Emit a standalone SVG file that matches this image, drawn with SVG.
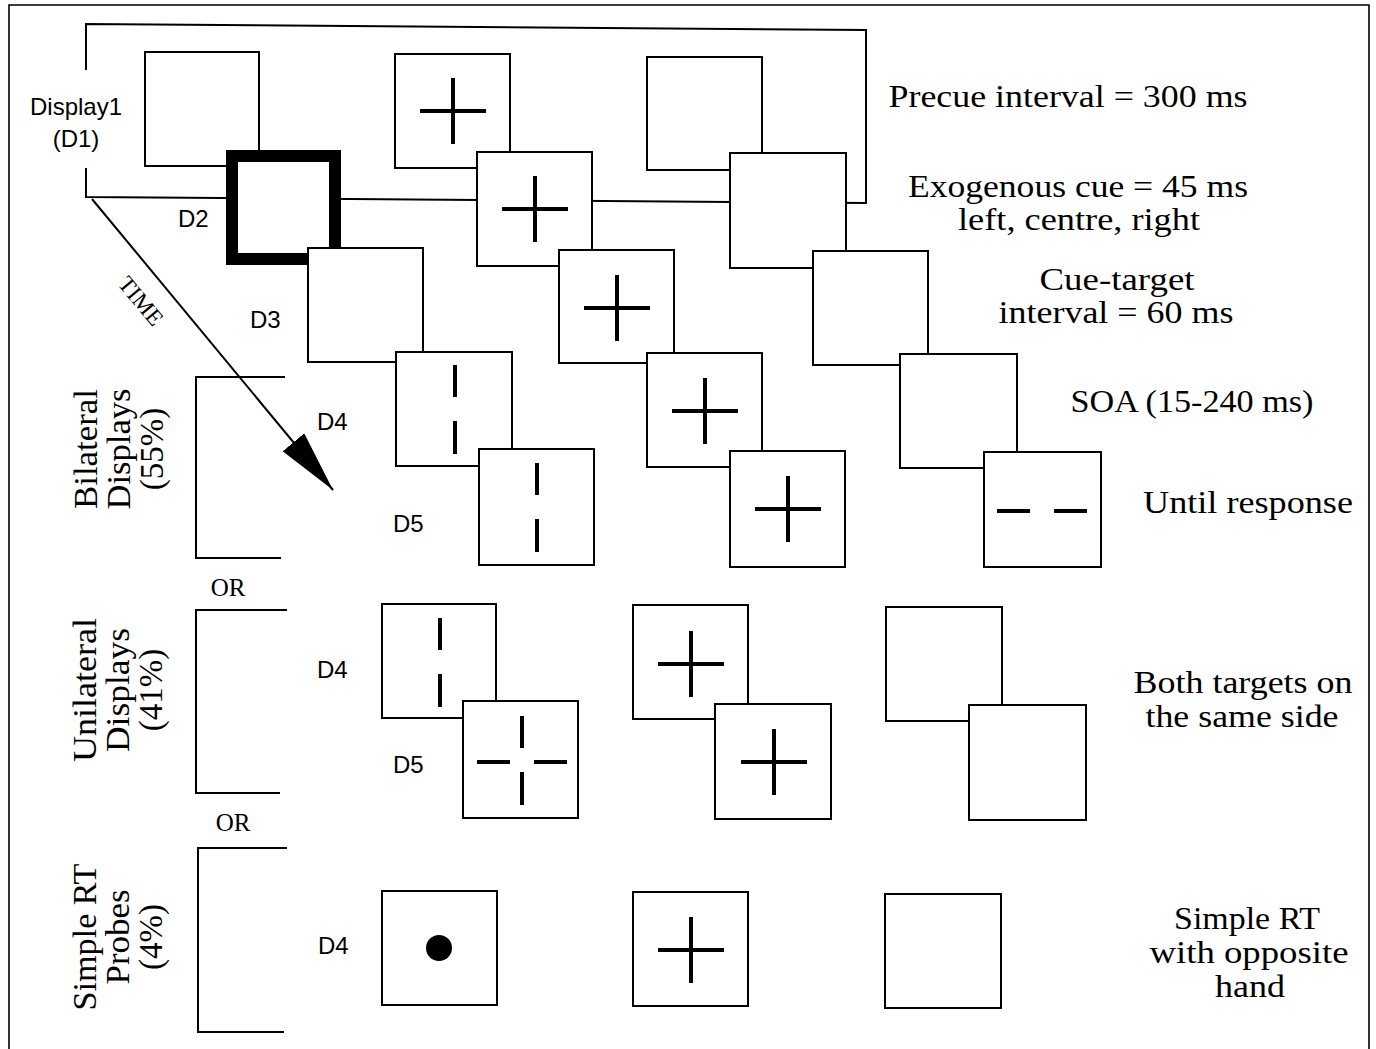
<svg xmlns="http://www.w3.org/2000/svg" xmlns:xlink="http://www.w3.org/1999/xlink" width="1376" height="1049" viewBox="0 0 1376 1049">
<style>
  .bg{fill:#fff}
  .box{fill:#fff;stroke:#000;stroke-width:2}
  .thick{fill:#fff;stroke:#000;stroke-width:12}
  .line{fill:none;stroke:#000;stroke-width:2}
  .border{fill:none;stroke:#000;stroke-width:1.6}
  .mark{fill:none;stroke:#000;stroke-width:4}
  .sans{font-family:"Liberation Sans",Arial,sans-serif;font-size:24px;fill:#000}
  .serif{font-family:"Liberation Serif","Times New Roman",serif;fill:#000}
  .rt{font-size:32px;text-anchor:middle}
  .side{font-size:33px;text-anchor:middle}
  .or{font-size:25px;text-anchor:middle}
  .time{font-size:23px;text-anchor:middle}
</style>
<defs>
  <marker id="arrowhead" markerUnits="userSpaceOnUse" viewBox="0 0 62 28" markerWidth="62" markerHeight="28" refX="62" refY="14" orient="auto">
    <path d="M0,0 L62,14 L0,28 Z" fill="#000"/>
  </marker>
  <path id="cross" class="mark" d="M-33,0 H33 M0,-33 V33"/>
  <path id="vbars" class="mark" d="M0,-44 V-12 M0,12 V45"/>
  <path id="hbars" class="mark" d="M-45,0 H-12 M12,0 H45"/>
</defs>
<rect class="bg" x="0" y="0" width="1376" height="1049"/>

<g id="frame">
  <path class="border" d="M9,1049 V5 H1369 V1049"/>
  <path class="line" d="M86,70 V24 L866,30 V203 L86,197 V168"/>
</g>

<g id="connectors">
  <line class="line" x1="92" y1="199" x2="333" y2="490" marker-end="url(#arrowhead)"/>
</g>

<g id="brackets">
  <path class="line" d="M285,377 H196 V558 H281"/>
  <path class="line" d="M287,610 H196 V793 H280"/>
  <path class="line" d="M287,848 H198 V1032 H284"/>
</g>

<g id="col-left">
  <g id="d1-left"><rect class="box" x="145" y="52" width="114" height="114"/></g>
  <g id="d2-left"><rect class="thick" x="232" y="156" width="103" height="103"/></g>
  <g id="d3-left"><rect class="box" x="308" y="248" width="115" height="114"/></g>
  <g id="d4-bil-left"><rect class="box" x="396" y="352" width="116" height="114"/><use xlink:href="#vbars" href="#vbars" x="455" y="409"/></g>
  <g id="d5-bil-left"><rect class="box" x="479" y="449" width="115" height="116"/><use xlink:href="#vbars" href="#vbars" x="537" y="507"/></g>
</g>

<g id="col-mid">
  <g id="d1-mid"><rect class="box" x="395" y="54" width="115" height="114"/><use xlink:href="#cross" href="#cross" x="453" y="111"/></g>
  <g id="d2-mid"><rect class="box" x="477" y="152" width="115" height="114"/><use xlink:href="#cross" href="#cross" x="535" y="209"/></g>
  <g id="d3-mid"><rect class="box" x="559" y="250" width="115" height="113"/><use xlink:href="#cross" href="#cross" x="617" y="308"/></g>
  <g id="d4-bil-mid"><rect class="box" x="647" y="353" width="115" height="114"/><use xlink:href="#cross" href="#cross" x="705" y="411"/></g>
  <g id="d5-bil-mid"><rect class="box" x="730" y="451" width="115" height="116"/><use xlink:href="#cross" href="#cross" x="788" y="509"/></g>
</g>

<g id="col-right">
  <g id="d1-right"><rect class="box" x="647" y="57" width="115" height="113"/></g>
  <g id="d2-right"><rect class="box" x="730" y="153" width="116" height="115"/></g>
  <g id="d3-right"><rect class="box" x="813" y="251" width="115" height="114"/></g>
  <g id="d4-bil-right"><rect class="box" x="900" y="354" width="117" height="114"/></g>
  <g id="d5-bil-right"><rect class="box" x="984" y="452" width="117" height="115"/><use xlink:href="#hbars" href="#hbars" x="1042" y="511"/></g>
</g>

<g id="unilateral">
  <g id="uni-d4-left"><rect class="box" x="382" y="604" width="114" height="114"/><use xlink:href="#vbars" href="#vbars" x="440" y="662"/></g>
  <g id="uni-d5-left"><rect class="box" x="463" y="701" width="115" height="117"/><use xlink:href="#vbars" href="#vbars" x="522" y="760"/><use xlink:href="#hbars" href="#hbars" x="522" y="762"/></g>
  <g id="uni-d4-mid"><rect class="box" x="633" y="605" width="115" height="114"/><use xlink:href="#cross" href="#cross" x="691" y="664"/></g>
  <g id="uni-d5-mid"><rect class="box" x="715" y="704" width="116" height="115"/><use xlink:href="#cross" href="#cross" x="774" y="762"/></g>
  <g id="uni-d4-right"><rect class="box" x="886" y="607" width="116" height="114"/></g>
  <g id="uni-d5-right"><rect class="box" x="969" y="705" width="117" height="115"/></g>
</g>

<g id="simple-rt">
  <g id="srt-left"><rect class="box" x="382" y="891" width="115" height="114"/><circle cx="439" cy="948" r="13" fill="#000"/></g>
  <g id="srt-mid"><rect class="box" x="633" y="892" width="115" height="114"/><use xlink:href="#cross" href="#cross" x="691" y="950"/></g>
  <g id="srt-right"><rect class="box" x="885" y="894" width="116" height="114"/></g>
</g>

<g id="display-labels">
  <text class="sans" x="76" y="115" text-anchor="middle">Display1</text>
  <text class="sans" x="76" y="147" text-anchor="middle">(D1)</text>
  <text class="sans" x="178" y="227">D2</text>
  <text class="sans" x="250" y="328">D3</text>
  <text class="sans" x="317" y="430">D4</text>
  <text class="sans" x="393" y="532">D5</text>
  <text class="sans" x="317" y="678">D4</text>
  <text class="sans" x="393" y="773">D5</text>
  <text class="sans" x="318" y="954">D4</text>
</g>

<g id="time-label">
  <text class="serif time" transform="translate(135,306) rotate(50.4)">TIME</text>
</g>

<g id="side-labels">
  <g transform="translate(97,449) rotate(-90)">
    <text class="serif side" x="0" y="0" textLength="120" lengthAdjust="spacingAndGlyphs">Bilateral</text>
    <text class="serif side" x="0" y="33" textLength="121" lengthAdjust="spacingAndGlyphs">Displays</text>
    <text class="serif side" x="0" y="66">(55%)</text>
  </g>
  <g transform="translate(96,690) rotate(-90)">
    <text class="serif side" x="0" y="0" textLength="144" lengthAdjust="spacingAndGlyphs">Unilateral</text>
    <text class="serif side" x="0" y="33" textLength="124" lengthAdjust="spacingAndGlyphs">Displays</text>
    <text class="serif side" x="0" y="66">(41%)</text>
  </g>
  <g transform="translate(96,937) rotate(-90)">
    <text class="serif side" x="0" y="0" textLength="147" lengthAdjust="spacingAndGlyphs">Simple RT</text>
    <text class="serif side" x="0" y="33" textLength="95" lengthAdjust="spacingAndGlyphs">Probes</text>
    <text class="serif side" x="0" y="66">(4%)</text>
  </g>
  <text class="serif or" x="228" y="596">OR</text>
  <text class="serif or" x="233" y="831">OR</text>
</g>

<g id="timing-labels">
  <text class="serif rt" x="1068" y="107" textLength="359" lengthAdjust="spacingAndGlyphs">Precue interval = 300 ms</text>
  <text class="serif rt" x="1078" y="197" textLength="340" lengthAdjust="spacingAndGlyphs">Exogenous cue = 45 ms</text>
  <text class="serif rt" x="1079" y="230" textLength="242" lengthAdjust="spacingAndGlyphs">left, centre, right</text>
  <text class="serif rt" x="1117" y="290" textLength="155" lengthAdjust="spacingAndGlyphs">Cue-target</text>
  <text class="serif rt" x="1116" y="323" textLength="235" lengthAdjust="spacingAndGlyphs">interval = 60 ms</text>
  <text class="serif rt" x="1192" y="412" textLength="243" lengthAdjust="spacingAndGlyphs">SOA (15-240 ms)</text>
  <text class="serif rt" x="1248" y="513" textLength="210" lengthAdjust="spacingAndGlyphs">Until response</text>
  <text class="serif rt" x="1243" y="693" textLength="219" lengthAdjust="spacingAndGlyphs">Both targets on</text>
  <text class="serif rt" x="1242" y="727" textLength="193" lengthAdjust="spacingAndGlyphs">the same side</text>
  <text class="serif rt" x="1247" y="929" textLength="146" lengthAdjust="spacingAndGlyphs">Simple RT</text>
  <text class="serif rt" x="1249" y="963" textLength="199" lengthAdjust="spacingAndGlyphs">with opposite</text>
  <text class="serif rt" x="1250" y="997" textLength="70" lengthAdjust="spacingAndGlyphs">hand</text>
</g>
</svg>
